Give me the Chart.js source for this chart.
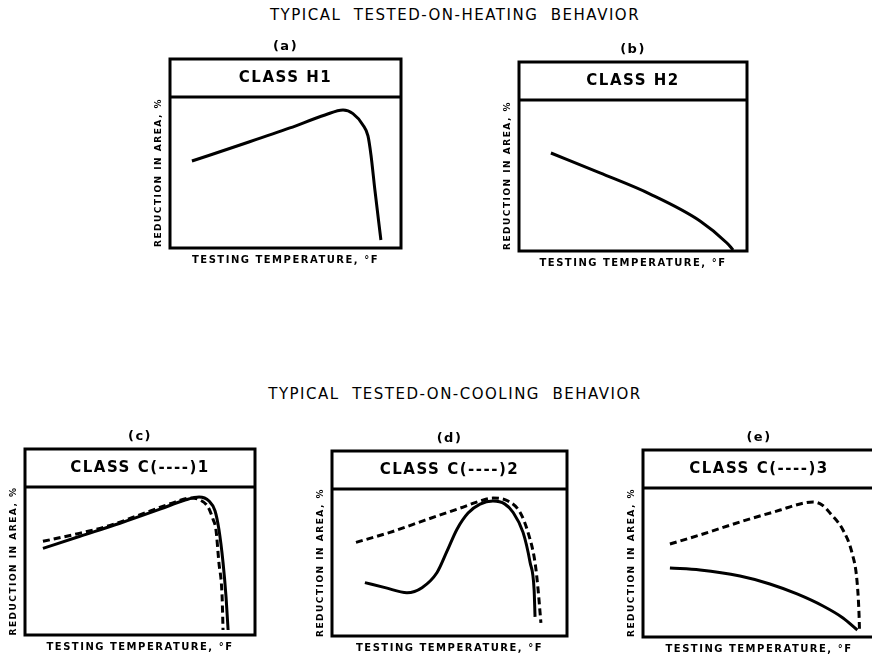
<!DOCTYPE html>
<html>
<head>
<meta charset="utf-8">
<script src="https://cdn.jsdelivr.net/npm/chart.js@4.4.1/dist/chart.umd.min.js"></script>
<style>
  html, body { margin: 0; padding: 0; background: #fff; overflow: hidden; width: 872px; height: 657px; }
  .group-title { position: absolute; left: 0; width: 910px; text-align: center; white-space: pre;
                 font: 15px 'DejaVu Sans', sans-serif; letter-spacing: 1.5px; color: #000; }
  canvas { position: absolute; }
</style>
</head>
<body>
<div class="group-title" style="top:6px">TYPICAL  TESTED-ON-HEATING  BEHAVIOR</div>
<div class="group-title" style="top:385px">TYPICAL  TESTED-ON-COOLING  BEHAVIOR</div>

<script>
// ============================================
// DATA (temperature / reduction in area, 0-100 of the sketch scale)
// ============================================
const X_LABEL = 'TESTING TEMPERATURE, °F';
const Y_LABEL = 'REDUCTION IN AREA, %';

// (a) class H1
const tempH1 = [9.5, 30.3, 51.9, 67.1, 74.9, 79.2, 83.5, 85.7, 87.0, 88.7, 91.3];
const raH1   = [57.6, 68.2, 79.5, 88.1, 91.4, 89.0, 81.5, 74.2, 61.6, 38.4, 5.3];

// (b) class H2
const tempH2 = [14.0, 35.5, 57.5, 79.4, 91.2, 93.9];
const raH2   = [64.9, 51.7, 37.7, 19.9, 5.3, 0.7];

// (c) class C(----)1
const tempC1Solid = [7.8, 23.9, 41.3, 58.7, 69.6, 75.7, 80.0, 82.6, 84.3, 86.1, 87.4, 88.3];
const raC1Solid   = [58.5, 66.7, 75.5, 85.0, 91.2, 93.2, 90.5, 84.0, 71.4, 49.0, 25.9, 3.4];
const tempC1Dash  = [7.8, 21.7, 37.0, 54.3, 65.2, 71.7, 76.1, 79.6, 81.8, 83.0, 84.3, 85.7, 86.1];
const raC1Dash    = [63.3, 68.0, 74.1, 83.7, 89.8, 92.5, 91.2, 86.4, 78.0, 71.4, 49.0, 25.9, 3.4];

// (d) class C(----)2
const tempC2Solid = [14.0, 22.6, 31.9, 38.3, 44.7, 48.9, 53.2, 57.9, 63.0, 68.5, 73.6, 77.0, 81.3, 84.3, 86.0, 86.4];
const raC2Solid   = [36.3, 32.9, 29.5, 32.9, 43.2, 57.5, 72.6, 83.6, 89.7, 91.8, 89.7, 84.2, 70.5, 50.0, 31.5, 13.0];
const tempC2Dash  = [10.2, 24.7, 39.6, 54.5, 63.0, 68.5, 74.9, 80.0, 83.4, 86.4, 87.7, 88.9];
const raC2Dash    = [63.7, 70.5, 78.8, 87.0, 91.8, 93.8, 91.8, 84.2, 70.5, 50.0, 31.5, 8.9];

// (e) class C(----)3
const tempC3Solid = [11.6, 24.6, 41.8, 54.7, 66.4, 77.6, 86.2, 92.4];
const raC3Solid   = [46.3, 45.0, 40.9, 35.6, 28.9, 20.8, 12.8, 4.7];
const tempC3Dash  = [11.6, 24.6, 41.8, 59.1, 67.7, 73.3, 77.2, 80.6, 86.2, 90.1, 92.2, 93.1, 93.3];
const raC3Dash    = [62.4, 68.5, 77.2, 85.2, 89.3, 90.6, 88.6, 83.2, 71.8, 56.4, 38.3, 16.1, 5.5];

// ============================================
// LAYOUT
// ============================================
const FONT = "'DejaVu Sans', sans-serif";
const TITLE_H = 20;   // "(a)" line: 16px line + 4px padding
const HEAD_H = 38;    // class box: 18px line + 10 + 10 padding
const XAX_H = 18;     // x title: 12px line + 6px padding
const YAX_W = 17;     // y title: 12px line + 5px padding
const PAD = 4;

const panels = [
  { label: '(a)', cls: 'CLASS H1', box: { left: 170, right: 401, headTop: 59, bottom: 248 },
    series: [{ x: tempH1, y: raH1 }] },
  { label: '(b)', cls: 'CLASS H2', box: { left: 519, right: 747, headTop: 62, bottom: 251 },
    series: [{ x: tempH2, y: raH2 }] },
  { label: '(c)', cls: 'CLASS C(----)1', box: { left: 25, right: 255, headTop: 449, bottom: 635 },
    series: [{ x: tempC1Dash, y: raC1Dash, dashed: true }, { x: tempC1Solid, y: raC1Solid }] },
  { label: '(d)', cls: 'CLASS C(----)2', box: { left: 332, right: 567, headTop: 451, bottom: 636 },
    series: [{ x: tempC2Dash, y: raC2Dash, dashed: true }, { x: tempC2Solid, y: raC2Solid }] },
  { label: '(e)', cls: 'CLASS C(----)3', box: { left: 643, right: 875, headTop: 450, bottom: 637 },
    series: [{ x: tempC3Dash, y: raC3Dash, dashed: true }, { x: tempC3Solid, y: raC3Solid }] }
];

// Frame: outer box round class header + plot, line under the header
const framePlugin = {
  id: 'frame',
  beforeDraw(chart) {
    chart.ctx.letterSpacing = '1.5px';
  },
  afterDraw(chart) {
    const ctx = chart.ctx;
    const a = chart.chartArea;
    ctx.save();
    ctx.strokeStyle = '#000';
    ctx.lineWidth = 3;
    ctx.strokeRect(a.left, a.top - HEAD_H, a.right - a.left, a.bottom - a.top + HEAD_H);
    ctx.beginPath();
    ctx.moveTo(a.left, a.top);
    ctx.lineTo(a.right, a.top);
    ctx.stroke();
    ctx.restore();
  }
};

function makePanel(p) {
  const b = p.box;
  const left = b.left - YAX_W - PAD;
  const top = b.headTop - TITLE_H;
  const cv = document.createElement('canvas');
  cv.width = b.right + PAD - left;
  cv.height = b.bottom + XAX_H - top;
  cv.style.left = left + 'px';
  cv.style.top = top + 'px';
  document.body.appendChild(cv);

  new Chart(cv, {
    type: 'scatter',
    data: {
      datasets: p.series.map(function(s) {
        return {
          data: s.x.map(function(x, i) { return { x: x, y: s.y[i] }; }),
          showLine: true,
          borderColor: '#000',
          borderWidth: 3,
          borderDash: s.dashed ? [7, 4] : [],
          pointRadius: 0,
          cubicInterpolationMode: 'monotone',
          fill: false
        };
      })
    },
    options: {
      responsive: false,
      animation: false,
      layout: { padding: { left: PAD, right: PAD, top: 0, bottom: 0 } },
      plugins: {
        legend: { display: false },
        tooltip: { enabled: false },
        title: {
          display: true, text: p.label, fullSize: false, color: '#000',
          font: { family: FONT, size: 13, weight: 'bold', lineHeight: '16px' },
          padding: { top: 0, bottom: 4 }
        },
        subtitle: {
          display: true, text: p.cls, fullSize: false, color: '#000',
          font: { family: FONT, size: 15, weight: 'bold', lineHeight: '18px' },
          padding: { top: 10, bottom: 10 }
        }
      },
      scales: {
        x: {
          type: 'linear', min: 0, max: 100,
          ticks: { display: false },
          grid: { display: false, drawTicks: false },
          border: { display: false },
          title: {
            display: true, text: X_LABEL, color: '#000',
            font: { family: FONT, size: 10, weight: 'bold', lineHeight: '12px' },
            padding: { top: 6, bottom: 0 }
          }
        },
        y: {
          type: 'linear', min: 0, max: 100,
          ticks: { display: false },
          grid: { display: false, drawTicks: false },
          border: { display: false },
          title: {
            display: true, text: Y_LABEL, color: '#000',
            font: { family: FONT, size: 9, weight: 'bold', lineHeight: '12px' },
            padding: { top: 0, bottom: 5 }
          }
        }
      }
    },
    plugins: [framePlugin]
  });
}

panels.forEach(makePanel);
</script>
</body>
</html>
